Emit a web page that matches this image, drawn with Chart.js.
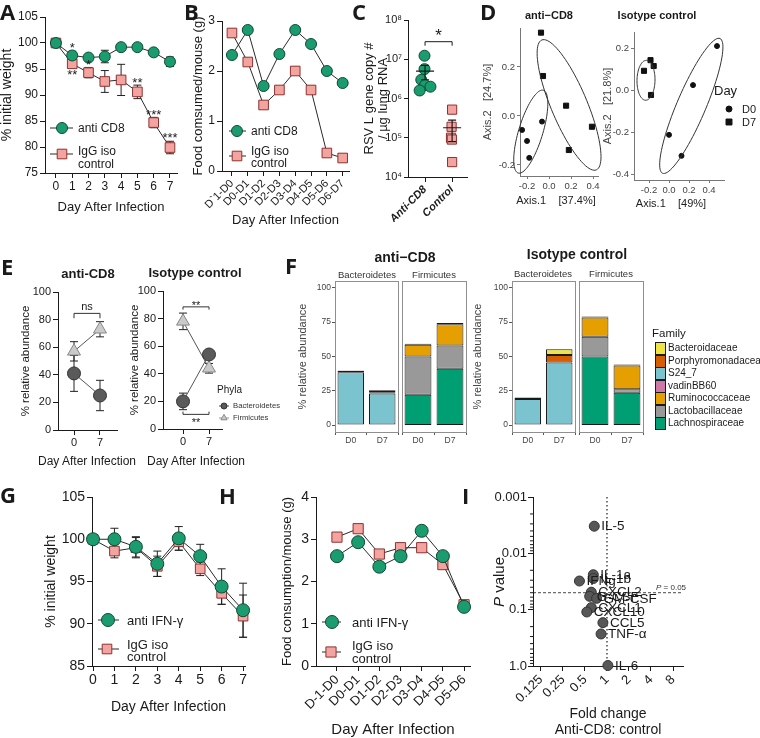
<!DOCTYPE html>
<html>
<head>
<meta charset="utf-8">
<title>Figure</title>
<script src="https://cdn.jsdelivr.net/npm/chart.js@4.4.1/dist/chart.umd.min.js"></script>
<style>
  html, body { margin: 0; padding: 0; background: #fff; }
  body { position: relative; width: 760px; height: 738px; overflow: hidden;
         font-family: "Liberation Sans", Arial, sans-serif; color: #1a1a1a; }
  canvas { position: absolute; left: 0; top: 0; }
  .t { position: absolute; white-space: nowrap; line-height: 1; transform: translateY(-50%); }
  .c { transform: translate(-50%, -50%); }
  .L { font-family: "Open Sans", sans-serif; font-weight: 700; font-size: 22px; }
  .key { position: absolute; width: 11px; height: 13px; box-sizing: border-box; border: 1px solid #1a1a1a; }
</style>
</head>
<body>
<script>
// ---------- data ----------
// A: weight, anti-CD8 vs IgG
const daysA = [0, 1, 2, 3, 4, 5, 6, 7];
const aCD8 = [100, 97.6, 97.2, 97.4, 99.2, 99.2, 98.2, 96.4];
const aCD8Err = [0, 0.8, 0.4, 1.2, 0.3, 0.3, 0.4, 0.9];
const aIgG = [100, 96.0, 94.3, 92.6, 92.9, 90.6, 84.7, 79.9];
const aIgGErr = [0, 0.5, 1.0, 2.1, 3.0, 1.3, 1.0, 1.2];
const aStarDay = [1, 2, 1, 5, 6, 7];
const aStarY = [99.6, 96.2, 94.4, 92.8, 86.6, 82.2];
const aStarText = ['*', '*', '**', '**', '***', '***'];

// B: food consumed
const bLabels = ['D`1-D0', 'D0-D1', 'D1-D2', 'D2-D3', 'D3-D4', 'D4-D5', 'D5-D6', 'D6-D7'];
const bCD8 = [2.32, 2.82, 1.70, 2.34, 2.82, 2.54, 2.00, 1.76];
const bIgG = [2.76, 2.18, 1.32, 1.62, 2.00, 1.62, 0.36, 0.26];

// C: RSV L gene copies
const cGroups = ['Anti-CD8', 'Control'];
const cAnti = [1.23e7, 5.6e6, 3.0e6, 2.2e6, 2.0e6, 1.6e6];
const cAntiJit = [0.98, 0.98, 0.86, 1.0, 1.2, 0.8];
const cCtrl = [5.2e5, 1.9e5, 1.0e5, 9.0e4, 2.4e4];
const cCtrlJit = [2.0, 1.98, 1.96, 1.99, 2.0];
const cMean = [5.0e6, 1.8e5];
const cSem = [2.0e6, 1.0e5];
const cBracket = 2.8e7;
const cStarY = 5.0e7;
const cTicks = [1e4, 1e5, 1e6, 1e7, 1e8];
const cTickLabels = ['10⁴', '10⁵', '10⁶', '10⁷', '10⁸'];

// D: PCoA
const dCD8D0x = [-0.064, -0.245, -0.2, -0.18];
const dCD8D0y = [-0.023, -0.057, -0.102, -0.171];
const dCD8D7x = [-0.073, -0.055, 0.155, 0.39, 0.18];
const dCD8D7y = [0.34, 0.163, 0.042, -0.044, -0.139];
const dIsoD0x = [0.0, 0.125, 0.24, 0.48];
const dIsoD0y = [-0.21, -0.31, 0.027, 0.213];
const dIsoD7x = [-0.25, -0.185, -0.153, -0.18];
const dIsoD7y = [0.095, 0.146, 0.118, -0.02];
// ellipse: centre x, centre y, half axis 1 (dx, dy), half axis 2 (dx, dy)
const dCD8Ell = [[-0.166, -0.064, 0.114, 0.169, 0.105, -0.014], [0.182, 0.045, -0.248, 0.265, 0.151, 0.0286]];
const dIsoEll = [[-0.23, 0.05, 0.005, 0.095, 0.09, -0.002], [0.223, -0.072, 0.287, 0.321, 0.133, -0.027]];

// E: phyla
const eDays = [0, 7];
const eCD8Fir = [57, 73], eCD8FirErr = [7, 5.5];
const eCD8Bac = [41, 25], eCD8BacErr = [13, 11];
const eIsoFir = [78, 44], eIsoFirErr = [6, 3.5];
const eIsoBac = [20, 54], eIsoBacErr = [6, 3];

// F: families
const fDays = ['D0', 'D7'];
const fFamilies = ['Bacteroidaceae', 'Porphyromonadaceae', 'S24_7', 'vadinBB60', 'Ruminococcaceae', 'Lactobacillaceae', 'Lachnospiraceae'];
const fColors = ['#F0E442', '#D55E00', '#7BC4CF', '#CC79A7', '#E69F00', '#999999', '#009E73'];
const cd8BacS24 = [38.5, 23.0], cd8BacPorph = [1.0, 0.8], cd8BacBact = [0.3, 1.5];
const cd8FirLachno = [22, 41], cd8FirLacto = [28, 17], cd8FirRumino = [8.5, 15.5], cd8FirVadin = [0.8, 0.8];
const isoBacS24 = [19, 45.5], isoBacPorph = [0.7, 5.5], isoBacBact = [0.3, 4.2];
const isoFirLachno = [50, 23.5], isoFirLacto = [14.3, 2.5], isoFirRumino = [14, 17.3], isoFirVadin = [0.8, 0.8];

// G: weight, anti IFN-g
const gIFN = [100, 100, 99.1, 97.1, 100.1, 98.0, 94.4, 91.6];
const gIFNErr = [0, 1.3, 1.2, 1.5, 1.4, 1.4, 2.1, 3.2];
const gIgG = [100, 98.6, 99.0, 96.8, 99.7, 96.5, 93.6, 90.9];
const gIgGErr = [0, 0.8, 1.2, 1.2, 1.0, 0.8, 1.3, 2.5];

// H: food consumption
const hLabels = ['D-1-D0', 'D0-D1', 'D1-D2', 'D2-D3', 'D3-D4', 'D4-D5', 'D5-D6'];
const hIFN = [2.6, 2.93, 2.35, 2.6, 3.2, 2.6, 1.4];
const hIgG = [3.05, 3.25, 2.65, 2.8, 2.8, 2.4, 1.45];

// I: cytokines
const iNames = ['IL-5', 'IL-1a', 'IFNg', 'IL-1b', 'CXCL2', 'G-CSF', 'GM-CSF', 'CXCL1', 'CXCL10', 'CCL5', 'TNF-α', 'IL-6'];
const iFold = [0.67, 0.65, 0.42, 0.65, 0.61, 0.58, 0.72, 0.61, 0.53, 0.88, 0.83, 1.03];
const iP = [0.0033, 0.024, 0.031, 0.028, 0.049, 0.058, 0.063, 0.092, 0.11, 0.17, 0.27, 0.98];
const iXTicks = [0.125, 0.25, 0.5, 1, 2, 4, 8];
const iYTicks = [0.001, 0.01, 0.1, 1];
const iYLabels = ['0.001', '0.01', '0.1', '1.0'];

// ---------- helpers ----------
const W = 760, H = 738;
const FONT = '"Liberation Sans", Arial, sans-serif';
const INK = '#1a1a1a';
Chart.defaults.font.family = FONT;
Chart.defaults.color = INK;

const GREEN = { style: 'circle', r: 5.5, fill: '#1a9c6f', stroke: '#0e4a35' };
const PINK = { style: 'rect', r: 6.8, fill: '#f4a4a0', stroke: '#8c3230' };
const GREEN2 = { style: 'circle', r: 6.5, fill: '#1a9c6f', stroke: '#0e4a35' };
const PINK2 = { style: 'rect', r: 7.2, fill: '#f4a4a0', stroke: '#8c3230' };
const BAC = { style: 'circle', r: 6.5, fill: '#5a5a5a', stroke: '#333' };
const FIR = { style: 'triangle', r: 7.5, fill: '#cacaca', stroke: '#888' };

function marker(ctx, m, x, y, r) {
  r = r || m.r;
  ctx.save();
  ctx.fillStyle = m.fill; ctx.strokeStyle = m.stroke; ctx.lineWidth = 1;
  ctx.beginPath();
  if (m.style === 'circle') ctx.arc(x, y, r, 0, Math.PI * 2);
  else if (m.style === 'rect') { const s = r * Math.SQRT1_2; ctx.rect(x - s, y - s, 2 * s, 2 * s); }
  else { ctx.moveTo(x, y - r); ctx.lineTo(x + r * 0.866, y + r * 0.5); ctx.lineTo(x - r * 0.866, y + r * 0.5); ctx.closePath(); }
  ctx.fill(); ctx.stroke();
  ctx.restore();
}

function axis(o) {
  const col = o.color || INK;
  return {
    type: o.type || 'linear', min: o.min, max: o.max, bounds: 'data', reverse: !!o.reverse,
    display: o.display !== false, offset: !!o.offset, stacked: !!o.stacked,
    afterBuildTicks: o.ticks ? (s => { s.ticks = o.ticks.map(v => ({ value: v })); }) : undefined,
    grid: { drawOnChartArea: false, drawTicks: true, tickLength: o.tl == null ? 5 : o.tl, tickColor: o.tickColor || col, tickWidth: 1 },
    border: { display: o.border !== false, color: o.tickColor || col, width: 1 },
    ticks: {
      autoSkip: false, maxRotation: o.rot || 0, minRotation: o.rot || 0, padding: o.pad == null ? 2 : o.pad,
      color: col, font: { size: o.fs || 12, style: o.fstyle || 'normal', weight: o.fweight || 'normal' },
      callback: o.labels ? ((v, i) => o.labels[i]) : o.fmt
    },
    title: o.title ? { display: true, text: o.title, color: col, padding: 0, font: { size: o.tfs || 13, lineHeight: o.tlh || 1 } } : { display: false }
  };
}

function mk(f, type, data, xs, ys, plugins) {
  const c = document.createElement('canvas');
  c.width = W; c.height = H;
  document.body.appendChild(c);
  xs.afterFit = s => { s.height = f.xh; };
  ys.afterFit = s => { s.width = f.l - f.yl; };
  return new Chart(c, {
    type, data,
    options: {
      responsive: false, animation: false, events: [],
      layout: { autoPadding: false, padding: { left: f.yl, top: f.t, right: W - f.r, bottom: H - f.b - f.xh } },
      scales: { x: xs, y: ys },
      plugins: { legend: { display: false }, tooltip: { enabled: false } }
    },
    plugins: plugins || []
  });
}

function series(xv, yv, err, m, line) {
  return {
    data: xv.map((x, i) => ({ x, y: yv[i] })), errors: err,
    showLine: line !== false, borderColor: '#2a2a2a', borderWidth: 1, tension: 0, fill: false,
    pointStyle: m.style, pointRadius: m.r, pointBackgroundColor: m.fill, pointBorderColor: m.stroke,
    pointBorderWidth: 1, clip: false
  };
}

// error bars behind the symbols
Chart.register({
  id: 'errbars',
  beforeDatasetsDraw(chart) {
    const ctx = chart.ctx, ys = chart.scales.y;
    chart.data.datasets.forEach((ds, i) => {
      if (!ds.errors) return;
      const meta = chart.getDatasetMeta(i);
      ctx.save(); ctx.strokeStyle = '#222'; ctx.lineWidth = 1;
      meta.data.forEach((pt, j) => {
        const e = ds.errors[j]; if (!e) return;
        const v = ds.data[j].y;
        const y1 = ys.getPixelForValue(v + e), y2 = ys.getPixelForValue(v - e), x = pt.x;
        ctx.beginPath();
        ctx.moveTo(x, y1); ctx.lineTo(x, y2);
        ctx.moveTo(x - 4, y1); ctx.lineTo(x + 4, y1);
        ctx.moveTo(x - 4, y2); ctx.lineTo(x + 4, y2);
        ctx.stroke();
      });
      ctx.restore();
    });
  }
});

function legendPlugin(items) {
  return { id: 'lg', afterDraw(chart) {
    const ctx = chart.ctx;
    items.forEach(it => {
      ctx.save(); ctx.strokeStyle = it.lc || '#2a2a2a'; ctx.lineWidth = 1;
      if (it.x1 != null) { ctx.beginPath(); ctx.moveTo(it.x1, it.y); ctx.lineTo(it.x2, it.y); ctx.stroke(); }
      ctx.restore();
      marker(ctx, it.m, it.x, it.y, it.r);
    });
  } };
}

function textAt(ctx, s, x, y, size, align, style) {
  ctx.save(); ctx.fillStyle = INK; ctx.font = (style || '') + ' ' + size + 'px ' + FONT;
  ctx.textAlign = align || 'center'; ctx.textBaseline = 'middle';
  ctx.fillText(s, x, y); ctx.restore();
}

function txt(s, x, y, size, opt) {
  opt = opt || {};
  const d = document.createElement('div');
  d.className = 't' + (opt.center ? ' c' : '') + (opt.cls ? ' ' + opt.cls : '');
  d.style.left = x + 'px'; d.style.top = y + 'px';
  if (size) d.style.fontSize = size + 'px';
  if (opt.bold) d.style.fontWeight = '700';
  if (opt.color) d.style.color = opt.color;
  if (opt.rot) d.style.transform = 'translate(-50%,-50%) rotate(-90deg)';
  if (opt.html) d.innerHTML = s; else d.textContent = s;
  document.body.appendChild(d);
}

// ---------- A ----------
mk({ yl: 0, l: 45, t: 17, r: 177, b: 173, xh: 40.5 }, 'line',
  { datasets: [series(daysA, aCD8, aCD8Err, GREEN), series(daysA, aIgG, aIgGErr, PINK)] },
  axis({ min: -0.67, max: 7.43, ticks: daysA, fs: 12, title: 'Day After Infection', tfs: 13, pad: 1 }),
  axis({ min: 75, max: 105, ticks: [75, 80, 85, 90, 95, 100, 105], fs: 12, title: '% initial weight', tfs: 14 }),
  [{ id: 'starsA', afterDatasetsDraw(chart) {
      const { ctx, scales: { x, y } } = chart;
      aStarDay.forEach((d, i) => textAt(ctx, aStarText[i], x.getPixelForValue(d), y.getPixelForValue(aStarY[i]) + 3, 13));
    } },
   legendPlugin([{ m: GREEN, x: 62, y: 128, x1: 50, x2: 73 }, { m: PINK, x: 62, y: 154, x1: 50, x2: 73 }])]);

// ---------- B ----------
mk({ yl: 191.5, l: 222, t: 21, r: 349, b: 171, xh: 55.5 }, 'line',
  { labels: bLabels, datasets: [series(bLabels.map((_, i) => i), bCD8, null, GREEN), series(bLabels.map((_, i) => i), bIgG, null, PINK)] },
  axis({ min: -0.63, max: 7.4, ticks: bLabels.map((_, i) => i), labels: bLabels, rot: 45, fs: 11, title: 'Day After Infection', tfs: 13, pad: 1 }),
  axis({ min: 0, max: 3, ticks: [0, 1, 2, 3], fs: 12, title: 'Food comsumed/mouse (g)', tfs: 13 }),
  [legendPlugin([{ m: GREEN, x: 237, y: 131, x1: 229, x2: 246 }, { m: PINK, x: 237, y: 156, x1: 229, x2: 246 }])]);

// ---------- C ----------
mk({ yl: 361.9, l: 408, t: 20, r: 467, b: 177, xh: 45 }, 'scatter',
  { datasets: [
    series(cAntiJit, cAnti, null, GREEN, false),
    series(cCtrlJit, cCtrl, null, { style: 'rect', r: 6.5, fill: PINK.fill, stroke: PINK.stroke }, false)
  ] },
  axis({ min: 0.37, max: 2.55, ticks: [1, 2], labels: cGroups, rot: 45, fs: 11, fstyle: 'italic', fweight: 'bold', pad: 1 }),
  axis({ type: 'logarithmic', min: 1e4, max: 1e8, ticks: cTicks, labels: cTickLabels, fs: 11, tl: 4,
         title: ['RSV L gene copy #', '/ µg lung RNA'], tfs: 13, tlh: 1.1 }),
  [{ id: 'cmean', afterDatasetsDraw(chart) {
      const { ctx, scales: { x, y } } = chart;
      ctx.save(); ctx.strokeStyle = INK; ctx.lineWidth = 1.2;
      cMean.forEach((m, i) => {
        const px = x.getPixelForValue(i + 1), py = y.getPixelForValue(m);
        const t = y.getPixelForValue(m + cSem[i]), b = y.getPixelForValue(m - cSem[i]);
        ctx.beginPath();
        ctx.moveTo(px - 9, py); ctx.lineTo(px + 9, py);
        ctx.moveTo(px, t); ctx.lineTo(px, b);
        ctx.moveTo(px - 4, t); ctx.lineTo(px + 4, t);
        ctx.moveTo(px - 4, b); ctx.lineTo(px + 4, b);
        ctx.stroke();
      });
      const by = y.getPixelForValue(cBracket), x1 = x.getPixelForValue(1), x2 = x.getPixelForValue(2);
      ctx.lineWidth = 1;
      ctx.beginPath(); ctx.moveTo(x1, by + 4); ctx.lineTo(x1, by); ctx.lineTo(x2, by); ctx.lineTo(x2, by + 4); ctx.stroke();
      ctx.restore();
      textAt(ctx, '*', (x1 + x2) / 2, y.getPixelForValue(cStarY) + 4, 17);
    } }]);

// ---------- D ----------
function ellipsePlugin(ells) {
  return { id: 'ell', afterDatasetsDraw(chart) {
    const { ctx, scales: { x, y } } = chart;
    ctx.save(); ctx.strokeStyle = '#333'; ctx.lineWidth = 1;
    ells.forEach(e => {
      ctx.beginPath();
      for (let k = 0; k <= 90; k++) {
        const a = k / 90 * 2 * Math.PI;
        const px = x.getPixelForValue(e[0] + Math.cos(a) * e[2] + Math.sin(a) * e[4]);
        const py = y.getPixelForValue(e[1] + Math.cos(a) * e[3] + Math.sin(a) * e[5]);
        if (k) ctx.lineTo(px, py); else ctx.moveTo(px, py);
      }
      ctx.stroke();
    });
    ctx.restore();
  } };
}
const DOT = { style: 'circle', r: 2.5, fill: '#111', stroke: '#111' };
const SQ = { style: 'rect', r: 3.6, fill: '#111', stroke: '#111' };
const fmt1 = v => v.toFixed(1);
mk({ yl: 482.5, l: 520, t: 28, r: 598, b: 176, xh: 29.5 }, 'scatter',
  { datasets: [series(dCD8D0x, dCD8D0y, null, DOT, false), series(dCD8D7x, dCD8D7y, null, SQ, false)] },
  axis({ min: -0.264, max: 0.445, ticks: [-0.2, 0, 0.2, 0.4], fmt: fmt1, fs: 9.5, tl: 3, color: '#444', tickColor: '#777' }),
  axis({ min: -0.245, max: 0.359, ticks: [-0.2, 0, 0.2], fmt: fmt1, fs: 9.5, tl: 3, color: '#444', tickColor: '#777',
         title: 'Axis.2   [24.7%]', tfs: 11 }),
  [ellipsePlugin(dCD8Ell)]);
mk({ yl: 602.5, l: 634, t: 32, r: 724, b: 180, xh: 28.5 }, 'scatter',
  { datasets: [series(dIsoD0x, dIsoD0y, null, DOT, false), series(dIsoD7x, dIsoD7y, null, SQ, false)] },
  axis({ min: -0.35, max: 0.55, ticks: [-0.2, 0, 0.2, 0.4], fmt: fmt1, fs: 9.5, tl: 3, color: '#444', tickColor: '#777' }),
  axis({ min: -0.425, max: 0.28, ticks: [-0.4, -0.2, 0, 0.2], fmt: fmt1, fs: 9.5, tl: 3, color: '#444', tickColor: '#777',
         title: 'Axis.2   [21.8%]', tfs: 11 }),
  [ellipsePlugin(dIsoEll), legendPlugin([{ m: DOT, x: 729, y: 109, r: 3 }, { m: SQ, x: 729, y: 122, r: 4.2 }])]);

// ---------- E ----------
function bracketPlugin(list) {
  return { id: 'br', afterDatasetsDraw(chart) {
    const { ctx, scales: { x, y } } = chart;
    ctx.save(); ctx.strokeStyle = '#333'; ctx.lineWidth = 1;
    list.forEach(b => {
      const x1 = x.getPixelForValue(0), x2 = x.getPixelForValue(7), by = y.getPixelForValue(b.y), ty = y.getPixelForValue(b.y + b.tick);
      ctx.beginPath(); ctx.moveTo(x1, ty); ctx.lineTo(x1, by); ctx.lineTo(x2, by); ctx.lineTo(x2, ty); ctx.stroke();
    });
    ctx.restore();
    list.forEach(b => textAt(ctx, b.text, (x.getPixelForValue(0) + x.getPixelForValue(7)) / 2, y.getPixelForValue(b.ty) + (b.text === 'ns' ? 0 : 3), 11));
  } };
}
function eSeries(v, err, m) {
  const s = series(eDays, v, err, m);
  s.borderColor = '#555';
  return s;
}
mk({ yl: 20.25, l: 58, t: 292, r: 117, b: 430, xh: 36 }, 'line',
  { datasets: [eSeries(eCD8Fir, eCD8FirErr, FIR), eSeries(eCD8Bac, eCD8BacErr, BAC)] },
  axis({ min: -4.31, max: 11.58, ticks: eDays, fs: 11, pad: 1 }),
  axis({ min: 0, max: 100, ticks: [0, 20, 40, 60, 80, 100], fs: 11, title: '% relative abundance', tfs: 11.5 }),
  [bracketPlugin([{ y: 84.5, tick: -3.5, text: 'ns', ty: 89 }])]);
mk({ yl: 129.25, l: 163, t: 291, r: 222, b: 429, xh: 37 }, 'line',
  { datasets: [eSeries(eIsoBac, eIsoBacErr, BAC), eSeries(eIsoFir, eIsoFirErr, FIR)] },
  axis({ min: -5.39, max: 10.5, ticks: eDays, fs: 11, pad: 1 }),
  axis({ min: 0, max: 100, ticks: [0, 20, 40, 60, 80, 100], fs: 11, title: '% relative abundance', tfs: 11.5 }),
  [bracketPlugin([{ y: 88.5, tick: -2, text: '**', ty: 91.5 }, { y: 10.6, tick: 2, text: '**', ty: 6.5 }]),
   legendPlugin([{ m: BAC, x: 224, y: 406, r: 3, x1: 219, x2: 229, lc: '#555' }, { m: FIR, x: 224, y: 418, r: 3.6, x1: 219, x2: 229, lc: '#999' }])]);

// ---------- F ----------
function barSet(name, vals) {
  const k = fFamilies.indexOf(name);
  return { label: name, data: vals, backgroundColor: fColors[k], borderColor: INK, borderWidth: 1, borderSkipped: false,
           categoryPercentage: 1, barPercentage: 0.84 };
}
const boxPlugin = { id: 'box', afterDraw(chart) {
  const a = chart.chartArea, ctx = chart.ctx;
  ctx.save(); ctx.strokeStyle = '#8f8f8f'; ctx.lineWidth = 1;
  ctx.strokeRect(Math.round(a.left) + 0.5, Math.round(a.top) + 0.5, Math.round(a.right - a.left), Math.round(a.bottom - a.top));
  ctx.restore();
} };
function facet(f, sets, showY, title) {
  return mk(f, 'bar', { labels: fDays, datasets: sets },
    axis({ type: 'category', offset: true, stacked: true, labels: fDays, fs: 8.5, tl: 3, border: false, color: '#444', tickColor: '#555', pad: 1 }),
    axis({ min: -5.1, max: 105, ticks: [0, 25, 50, 75, 100], stacked: true, display: showY, fs: 8.5, tl: 3, border: false,
           color: '#444', tickColor: '#555', pad: 1, title: title, tfs: 11 }),
    [boxPlugin]);
}
facet({ yl: 297.5, l: 335, t: 281, r: 398, b: 432, xh: 20 },
  [barSet('S24_7', cd8BacS24), barSet('Porphyromonadaceae', cd8BacPorph), barSet('Bacteroidaceae', cd8BacBact)], true, '% relative abundance');
facet({ yl: 402, l: 402, t: 281, r: 466, b: 432, xh: 20 },
  [barSet('Lachnospiraceae', cd8FirLachno), barSet('Lactobacillaceae', cd8FirLacto), barSet('Ruminococcaceae', cd8FirRumino), barSet('vadinBB60', cd8FirVadin)], false);
facet({ yl: 472.5, l: 512, t: 281, r: 575, b: 432, xh: 20 },
  [barSet('S24_7', isoBacS24), barSet('Porphyromonadaceae', isoBacPorph), barSet('Bacteroidaceae', isoBacBact)], true, '% relative abundance');
facet({ yl: 579, l: 579, t: 281, r: 643, b: 432, xh: 20 },
  [barSet('Lachnospiraceae', isoFirLachno), barSet('Lactobacillaceae', isoFirLacto), barSet('Ruminococcaceae', isoFirRumino), barSet('vadinBB60', isoFirVadin)], false);

// ---------- G ----------
mk({ yl: 44.5, l: 92, t: 497, r: 245, b: 666, xh: 48 }, 'line',
  { datasets: [series(daysA, gIFN, gIFNErr, GREEN2), series(daysA, gIgG, gIgGErr, PINK)] },
  axis({ min: -0.047, max: 7.09, ticks: daysA, fs: 14, title: 'Day After Infection', tfs: 14, pad: 1 }),
  axis({ min: 85, max: 105, ticks: [85, 90, 95, 100, 105], fs: 14, title: '% initial weight', tfs: 14 }),
  [legendPlugin([{ m: GREEN2, x: 108, y: 620, x1: 98, x2: 119 }, { m: PINK, x: 107, y: 649, x1: 98, x2: 119 }])]);

// ---------- H ----------
mk({ yl: 280.5, l: 316, t: 497, r: 470, b: 666, xh: 71 }, 'line',
  { datasets: [series(hLabels.map((_, i) => i), hIFN, null, GREEN2), series(hLabels.map((_, i) => i), hIgG, null, PINK2)] },
  axis({ min: -0.99, max: 6.28, ticks: hLabels.map((_, i) => i), labels: hLabels, rot: 45, fs: 13, title: 'Day After Infection', tfs: 15, pad: 1 }),
  axis({ min: 0, max: 4, ticks: [0, 1, 2, 3, 4], fs: 14, title: 'Food consumption/mouse (g)', tfs: 13 }),
  [legendPlugin([{ m: GREEN2, x: 332, y: 622, x1: 322, x2: 341 }, { m: PINK2, x: 331, y: 652, x1: 322, x2: 341 }])]);

// ---------- I ----------
const IPT = { style: 'circle', r: 5, fill: '#575757', stroke: '#333' };
mk({ yl: 490, l: 533, t: 497, r: 683, b: 666, xh: 72 }, 'scatter',
  { datasets: [series(iFold, iP, null, IPT, false)] },
  axis({ type: 'logarithmic', min: 0.0973, max: 10.96, ticks: iXTicks, labels: iXTicks.map(String), rot: 45, fs: 13, pad: 1,
         title: ['Fold change', 'Anti-CD8: control'], tfs: 14, tlh: 1.15 }),
  axis({ type: 'logarithmic', min: 0.001, max: 1, reverse: true, ticks: iYTicks, labels: iYLabels, fs: 13, pad: 1 }),
  [{ id: 'ilines',
     beforeDatasetsDraw(chart) {
       const { ctx, scales: { x, y }, chartArea: a } = chart;
       ctx.save(); ctx.strokeStyle = INK; ctx.lineWidth = 1.2;
       ctx.setLineDash([1.5, 2.5]);
       const vx = x.getPixelForValue(1);
       ctx.beginPath(); ctx.moveTo(vx, a.top); ctx.lineTo(vx, a.bottom); ctx.stroke();
       ctx.lineWidth = 0.8; ctx.setLineDash([3, 2]);
       const hy = y.getPixelForValue(0.05);
       ctx.beginPath(); ctx.moveTo(a.left, hy); ctx.lineTo(a.right, hy); ctx.stroke();
       ctx.restore();
     },
     afterDatasetsDraw(chart) {
       const { ctx, scales: { x, y }, chartArea: a } = chart;
       iNames.forEach((n, i) => textAt(ctx, n, x.getPixelForValue(iFold[i]) + 7, y.getPixelForValue(iP[i]) + 0.5, 13.5, 'left'));
       ctx.save(); ctx.strokeStyle = INK; ctx.lineWidth = 1;
       for (let e = -3; e < 0; e++) for (let k = 2; k <= 9; k++) {
         const py = y.getPixelForValue(k * Math.pow(10, e));
         ctx.beginPath(); ctx.moveTo(a.left - 3, py); ctx.lineTo(a.left, py); ctx.stroke();
       }
       ctx.restore();
     } }]);

// ---------- text ----------
txt('A', 0, 11, 0, { cls: 'L' });
txt('B', 184, 11, 0, { cls: 'L' });
txt('C', 352, 11, 0, { cls: 'L' });
txt('D', 480, 11, 0, { cls: 'L' });
txt('E', 1, 266, 0, { cls: 'L' });
txt('F', 285, 265, 0, { cls: 'L' });
txt('G', 0, 494, 0, { cls: 'L' });
txt('H', 219, 495, 0, { cls: 'L' });
txt('I', 462, 495, 0, { cls: 'L' });

txt('anti CD8', 78, 128, 12);
txt('IgG iso', 78, 151, 12);
txt('control', 78, 164, 12);
txt('anti CD8', 251, 131, 12);
txt('IgG iso', 251, 151, 12);
txt('control', 251, 163, 12);

txt('anti\u2212CD8', 549, 15, 11, { center: true, bold: true });
txt('Isotype control', 657, 15, 11, { center: true, bold: true });
txt('Axis.1&nbsp;&nbsp;&nbsp;&nbsp;[37.4%]', 556, 200, 11, { center: true, html: true, color: '#222' });
txt('Axis.1&nbsp;&nbsp;&nbsp;&nbsp;[49%]', 671, 203, 11, { center: true, html: true, color: '#222' });
txt('Day', 714, 90, 13);
txt('D0', 742, 109, 11);
txt('D7', 742, 122, 11);

txt('anti-CD8', 88, 273, 13, { center: true, bold: true });
txt('Isotype control', 195, 272, 13, { center: true, bold: true });
txt('Day After Infection', 87, 461, 12, { center: true });
txt('Day After Infection', 196, 461, 12, { center: true });
txt('Phyla', 217, 390, 10);
txt('Bacteroidetes', 233, 406, 7.7, { color: '#333' });
txt('Firmicutes', 233, 418, 7.7, { color: '#333' });

txt('anti\u2212CD8', 405, 257, 14, { center: true, bold: true });
txt('Isotype control', 577, 254, 14, { center: true, bold: true });
txt('Bacteroidetes', 367, 275, 9.5, { center: true, color: '#333' });
txt('Firmicutes', 434, 275, 9.5, { center: true, color: '#333' });
txt('Bacteroidetes', 543, 274, 9.5, { center: true, color: '#333' });
txt('Firmicutes', 611, 274, 9.5, { center: true, color: '#333' });
txt('Family', 652, 334, 11.5);
fFamilies.forEach((n, i) => {
  const d = document.createElement('div');
  d.className = 'key';
  d.style.left = '655px'; d.style.top = (342 + i * 12.5) + 'px'; d.style.background = fColors[i];
  document.body.appendChild(d);
  txt(n, 668, 348 + i * 12.5, 10);
});

txt('anti IFN-γ', 127, 620, 13);
txt('IgG iso', 127, 644, 13);
txt('control', 127, 656, 13);
txt('anti IFN-γ', 352, 622, 13);
txt('IgG iso', 352, 645, 13);
txt('control', 352, 658, 13);

txt('<i>P</i> value', 498, 582, 15, { rot: true, html: true });
txt('<i>P</i> = 0.05', 656, 588, 8, { html: true, color: '#333' });
</script>
</body>
</html>
